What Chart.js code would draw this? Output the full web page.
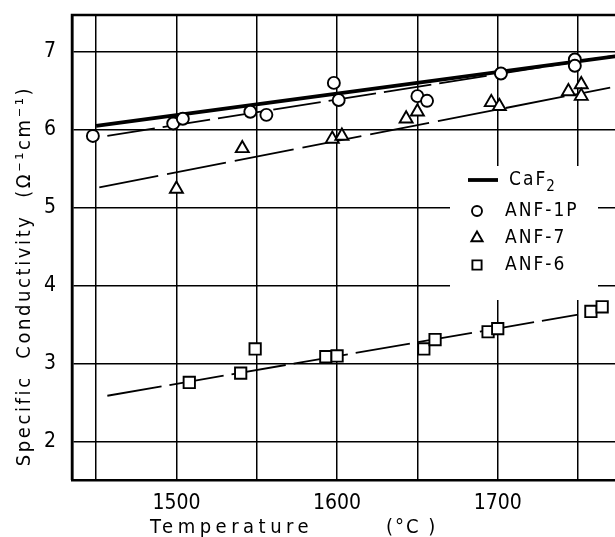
<!DOCTYPE html>
<html>
<head>
<meta charset="utf-8">
<script src="https://cdn.jsdelivr.net/npm/chart.js@4.4.1/dist/chart.umd.min.js"></script>
<style>
  html, body { margin: 0; padding: 0; background: #fff; }
</style>
</head>
<body>
<canvas id="myChart" width="615" height="537"></canvas>
<script>
// values
const anf1pTemp = [1448, 1498, 1504, 1546, 1556, 1598, 1601, 1650, 1656, 1702, 1748, 1748];
const anf1pCond = [5.92, 6.08, 6.14, 6.23, 6.19, 6.60, 6.38, 6.43, 6.37, 6.72, 6.90, 6.82];

const anf7Temp = [1500, 1541, 1597, 1603, 1643, 1650, 1696, 1701, 1744, 1752, 1752];
const anf7Cond = [5.24, 5.76, 5.88, 5.92, 6.14, 6.23, 6.35, 6.30, 6.49, 6.58, 6.43];

const anf6Temp = [1508, 1540, 1549, 1593, 1600, 1654, 1661, 1694, 1700, 1758, 1765];
const anf6Cond = [2.76, 2.88, 3.19, 3.09, 3.10, 3.19, 3.31, 3.41, 3.45, 3.67, 3.73];

// fitted lines (end points)
const caf2LineT = [1450, 1773];
const caf2LineC = [6.05, 6.94];
const anf1pLineT = [1457, 1773];
const anf1pLineC = [5.92, 6.95];
const anf7LineT = [1452, 1770];
const anf7LineC = [5.26, 6.54];
const anf6LineT = [1457, 1750];
const anf6LineC = [2.59, 3.63];

const xTicks = [1450, 1500, 1550, 1600, 1650, 1700, 1750];
const xLabels = [1500, 1600, 1700];
const yTicks = [2, 3, 4, 5, 6, 7];

const seriesNames = ['CaF2', 'ANF-1P', 'ANF-7', 'ANF-6'];

function pts(xs, ys) {
  return xs.map((x, i) => ({ x: x, y: ys[i] }));
}

const FONT = '"DejaVu Sans Condensed", "DejaVu Sans", sans-serif';

function lineSet(xs, ys, width, dash) {
  return {
    data: pts(xs, ys),
    showLine: true,
    borderColor: '#000',
    borderWidth: width,
    borderDash: dash,
    pointRadius: 0,
    order: 2
  };
}

function markSet(label, xs, ys, style, r) {
  return {
    label: label,
    data: pts(xs, ys),
    showLine: false,
    pointStyle: style,
    pointRadius: r,
    borderColor: '#000',
    backgroundColor: '#fff',
    pointBorderWidth: 1.9,
    order: 1
  };
}

// white legend box, frame, titles, legend entries
const paperPlugin = {
  id: 'paper',
  beforeDatasetsDraw(chart) {
    const c = chart.ctx;
    c.save();
    c.fillStyle = '#fff';
    c.fillRect(450, 166, 148, 134);
    c.restore();
  },
  afterDraw(chart) {
    const c = chart.ctx;
    const a = chart.chartArea;
    c.save();
    c.strokeStyle = '#000';
    c.lineWidth = 2.5;
    c.beginPath();
    c.moveTo(a.left, a.bottom);
    c.lineTo(a.left, a.top);
    c.lineTo(a.right, a.top);
    c.stroke();

    c.fillStyle = '#000';
    c.textBaseline = 'middle';
    c.font = '20px ' + FONT;
    c.letterSpacing = '4.5px';
    c.textAlign = 'left';
    c.fillText('Temperature', 150, 528);
    c.letterSpacing = '2px';
    c.fillText('(°C )', 386, 528);

    // y title
    c.save();
    c.translate(25, 276);
    c.rotate(-Math.PI / 2);
    c.textAlign = 'center';
    c.letterSpacing = '2.6px';
    c.font = '20px ' + FONT;
    c.fillText('Specific  Conductivity  (Ω⁻¹cm⁻¹)', 0, 0);
    c.restore();

    // legend
    c.font = '19px ' + FONT;
    c.letterSpacing = '2px';
    c.lineWidth = 3.8;
    c.beginPath();
    c.moveTo(468, 180);
    c.lineTo(498, 180);
    c.stroke();
    c.fillText('CaF', 509, 180);
    const w = c.measureText('CaF').width;
    c.font = '15px ' + FONT;
    c.fillText('2', 509 + w - 1, 187);
    c.font = '19px ' + FONT;

    const markers = [['circle', 211, 5], ['triangle', 238, 6.5], ['rect', 265, 6.5]];
    markers.forEach((m, i) => {
      c.lineWidth = 1.9;
      c.strokeStyle = '#000';
      c.fillStyle = '#fff';
      Chart.helpers.drawPoint(c, { pointStyle: m[0], radius: m[2], borderWidth: 1.9 }, 477, m[1]);
      c.fillStyle = '#000';
      c.fillText(seriesNames[i + 1], 505, m[1]);
    });
    c.restore();
  }
};

const ctx = document.getElementById('myChart');

const myChart = new Chart(ctx, {
  type: 'scatter',
  data: {
    datasets: [
      markSet('ANF-1P', anf1pTemp, anf1pCond, 'circle', 6),
      markSet('ANF-7', anf7Temp, anf7Cond, 'triangle', 7.5),
      markSet('ANF-6', anf6Temp, anf6Cond, 'rect', 8),
      lineSet(caf2LineT, caf2LineC, 3.8, []),
      lineSet(anf1pLineT, anf1pLineC, 1.8, [48, 8]),
      lineSet(anf7LineT, anf7LineC, 1.8, [60, 9]),
      lineSet(anf6LineT, anf6LineC, 1.8, [55, 8])
    ]
  },
  options: {
    responsive: false,
    animation: false,
    devicePixelRatio: 1,
    layout: { autoPadding: false, padding: { top: 15, right: 0, left: 0, bottom: 0 } },
    plugins: {
      legend: { display: false },
      tooltip: { enabled: false }
    },
    scales: {
      x: {
        type: 'linear',
        min: 1435,
        max: 1773,
        afterBuildTicks: (axis) => { axis.ticks = xTicks.map(v => ({ value: v })); },
        afterFit: (scale) => {
          scale.height = 57;
          scale.paddingLeft = 0;
          scale.paddingRight = 0;
        },
        grid: { color: '#000', lineWidth: 1.5, drawTicks: false },
        border: { color: '#000', width: 2.5 },
        ticks: {
          padding: 11,
          color: '#000',
          font: { family: FONT, size: 21 },
          callback: (v) => xLabels.includes(v) ? String(v) : ''
        }
      },
      y: {
        type: 'linear',
        min: 1.51,
        max: 7.47,
        afterBuildTicks: (axis) => { axis.ticks = yTicks.map(v => ({ value: v })); },
        afterFit: (scale) => {
          scale.width = 72;
          scale.paddingTop = 0;
          scale.paddingBottom = 0;
        },
        grid: { color: '#000', lineWidth: 1.5, drawTicks: false },
        border: { color: '#000', width: 2.5 },
        ticks: {
          padding: 16,
          color: '#000',
          font: { family: FONT, size: 21 }
        }
      }
    }
  },
  plugins: [paperPlugin]
});
</script>
</body>
</html>
